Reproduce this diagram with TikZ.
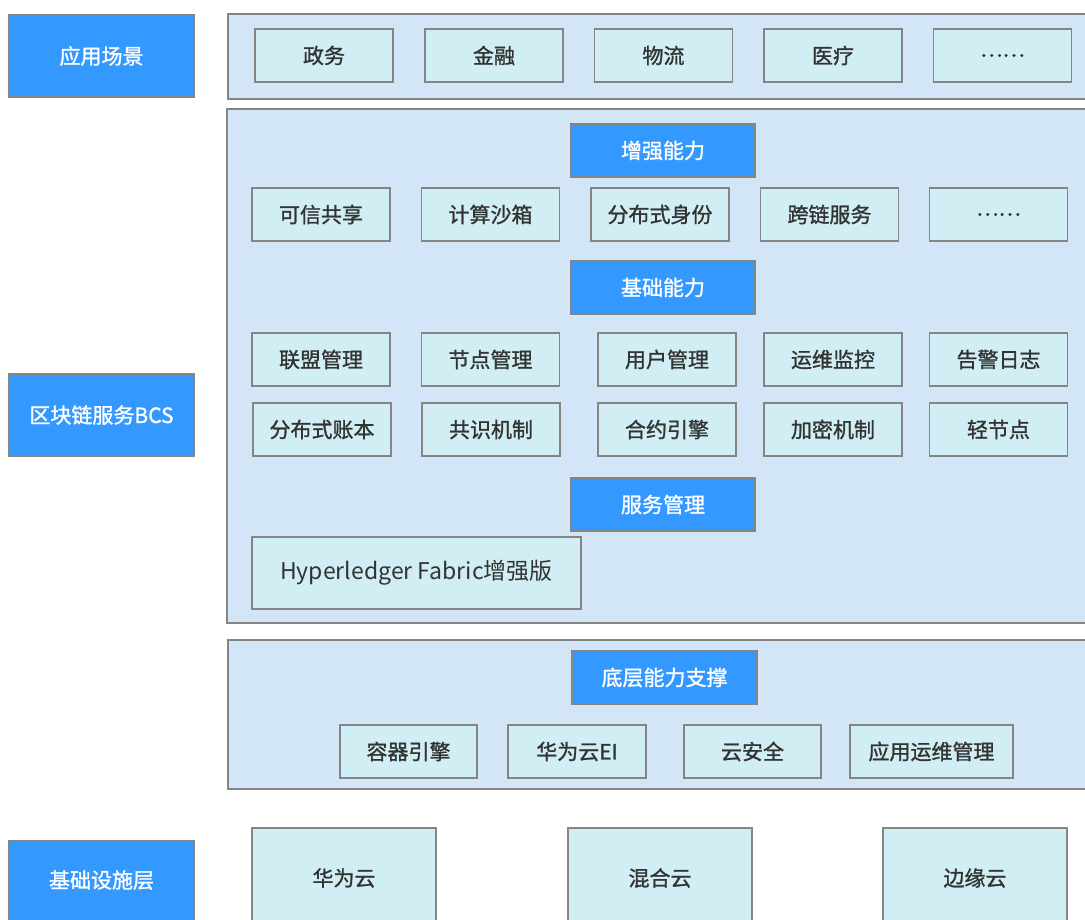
\documentclass[tikz,border=0pt]{standalone}
\usepackage{fontspec}
\setmainfont{Noto Sans CJK SC}
\newfontfamily\cjk[FakeBold=1.2]{Noto Sans CJK SC}
\newfontfamily\cjkreg{Noto Sans CJK SC}
\definecolor{hdrblue}{HTML}{3399FF}
\definecolor{panel}{HTML}{D3E6F8}
\definecolor{cell}{HTML}{D0EEF4}
\definecolor{edge}{HTML}{858585}
\definecolor{txt}{HTML}{333333}
\tikzset{
  lblfont/.style={font=\cjk\fontsize{21}{25}\selectfont},
  base/.style={draw=edge, line width=1.3pt, inner sep=0pt, lblfont},
  hdr/.style={base, fill=hdrblue, text=white},
  panelbox/.style={base, fill=panel},
  cellbox/.style={base, fill=cell, text=txt},
}
\begin{document}
\begin{tikzpicture}[x=1pt,y=-1pt]
\useasboundingbox (0,0) rectangle (1085,919);
% left labels
\node[hdr, minimum width=185pt, minimum height=82pt] (lA) at (101.5,56) {应用场景};
\node[hdr, minimum width=185pt, minimum height=82pt] (lB) at (101.5,415) {区块链服务BCS};
\node[hdr, minimum width=185pt, minimum height=89pt] (lC) at (101.5,885.5) {};
\node[text=white, lblfont] (lCt) at (101.5,880) {基础设施层};
% panels
\node[panelbox, minimum width=862pt, minimum height=85pt] (pTop) at (659,56.5) {};
\node[panelbox, minimum width=863pt, minimum height=514pt] (pMid) at (658.5,366) {};
\node[panelbox, minimum width=862pt, minimum height=149pt] (pLow) at (659,714.5) {};
% top row
\foreach \n/\x/\t in {a1/324/政务, a2/494/金融, a3/663.5/物流, a4/833/医疗, a5/1002.5/……}
  \node[cellbox, minimum width=138pt, minimum height=53pt] (\n) at (\x,55.5) {\t};
% enhanced
\node[hdr, minimum width=184pt, minimum height=53pt] (hE) at (663,150.5) {增强能力};
\foreach \n/\x/\t in {b1/321/可信共享, b2/490.5/计算沙箱, b3/660/分布式身份, b4/829.5/跨链服务, b5/998.5/……}
  \node[cellbox, minimum width=138pt, minimum height=53pt] (\n) at (\x,214.5) {\t};
% basic
\node[hdr, minimum width=184pt, minimum height=53pt] (hB) at (663,287.5) {基础能力};
\foreach \n/\x/\t in {c1/321/联盟管理, c2/490.5/节点管理, c3/667/用户管理, c4/833/运维监控, c5/998.5/告警日志}
  \node[cellbox, minimum width=138pt, minimum height=53pt] (\n) at (\x,359.5) {\t};
\foreach \n/\x/\t in {d1/322/分布式账本, d2/491/共识机制, d3/667/合约引擎, d4/833/加密机制, d5/998.5/轻节点}
  \node[cellbox, minimum width=138pt, minimum height=53pt] (\n) at (\x,429.5) {\t};
% service management
\node[hdr, minimum width=184pt, minimum height=53pt] (hS) at (663,504.5) {服务管理};
\node[cellbox, minimum width=329pt, minimum height=72pt, font=\cjkreg\fontsize{23}{27}\selectfont] (hf) at (416.5,573) {Hyperledger Fabric增强版};
% lower support
\node[hdr, minimum width=185pt, minimum height=53pt] (hL) at (664.5,677.5) {底层能力支撑};
\node[cellbox, minimum width=137pt, minimum height=53pt] (e1) at (408.5,751.5) {容器引擎};
\node[cellbox, minimum width=138pt, minimum height=53pt] (e2) at (577,751.5) {华为云EI};
\node[cellbox, minimum width=137pt, minimum height=53pt] (e3) at (752.5,751.5) {云安全};
\node[cellbox, minimum width=163pt, minimum height=53pt] (e4) at (931.5,751.5) {应用运维管理};
% infrastructure
\foreach \n/\x/\t in {f1/344/华为云, f2/660/混合云, f3/975/边缘云}{
  \node[cellbox, minimum width=184pt, minimum height=102pt] (\n) at (\x,879) {};
  \node[text=txt, lblfont] (\n t) at (\x,878) {\t};
}
\end{tikzpicture}
\end{document}
